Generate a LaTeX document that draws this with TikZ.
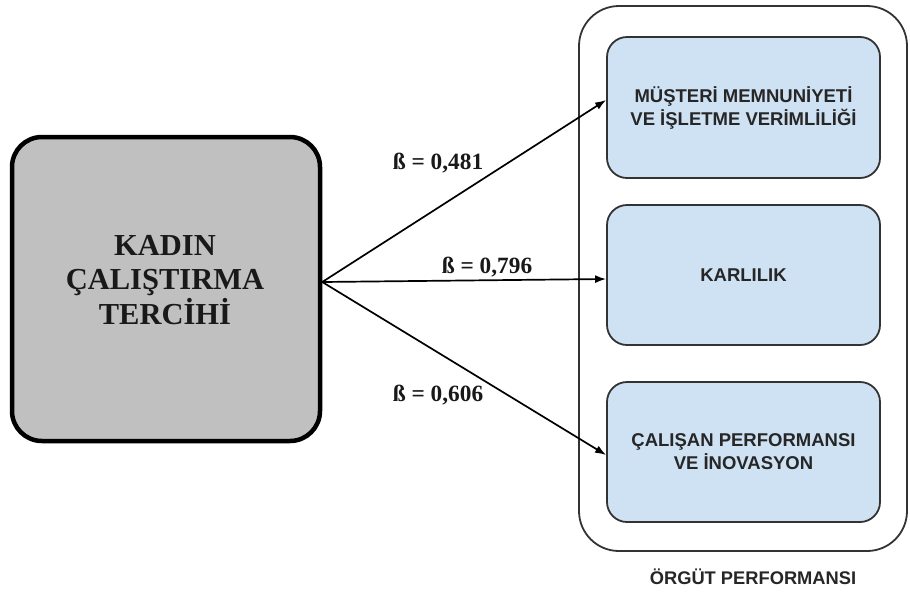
\documentclass[tikz,border=0pt]{standalone}
\usepackage{fontspec}
\setmainfont{Liberation Serif}
\setsansfont{Liberation Sans}
\usetikzlibrary{arrows.meta}
\definecolor{boxblue}{HTML}{CFE2F3}
\definecolor{boxgray}{HTML}{C0C0C0}
\definecolor{edgegray}{HTML}{333333}
\begin{document}
\begin{tikzpicture}[x=1pt,y=-1pt,
  kbox/.style={draw=black, line width=4.5pt, fill=boxgray, rounded corners=30pt,
    minimum width=308pt, minimum height=304pt, inner sep=0pt},
  ktext/.style={font=\fontsize{30.5}{34.5}\selectfont\bfseries, align=center, text=black!90},
  outerbox/.style={draw=edgegray, line width=1.8pt, rounded corners=40pt,
    minimum width=328pt, minimum height=545pt, inner sep=0pt},
  pbox/.style={draw=edgegray, line width=1.8pt, fill=boxblue, rounded corners=20pt,
    minimum width=273pt, inner sep=0pt,
    font=\sffamily\bfseries\fontsize{18.5}{23}\selectfont, align=center, text=black!85},
  beta/.style={font=\fontsize{23.3}{27}\selectfont\bfseries, text=black!90},
  conn/.style={draw=black, line width=1.7pt, -{Latex[length=11pt,width=8pt]}},
  caption/.style={font=\sffamily\bfseries\fontsize{18.3}{22}\selectfont, text=black!85}
]
\useasboundingbox (0,0) rectangle (910,595);
\fill[white] (0,0) rectangle (910,595);

% left box
\node[kbox] (k) at (166,289) {};
\node[ktext] (kt) at (165,280) {KADIN\\ÇALIŞTIRMA\\TERCİHİ};

% container
\node[outerbox] (o) at (743,278.5) {};
\node[caption] (oc) at (753,577) {ÖRGÜT PERFORMANSI};

% inner boxes
\node[pbox, minimum height=141pt] (m1) at (743.5,107.5) {MÜŞTERİ MEMNUNİYETİ\\VE İŞLETME VERİMLİLİĞİ};
\node[pbox, minimum height=140pt] (m2) at (743.5,275) {KARLILIK};
\node[pbox, minimum height=140pt] (m3) at (743.5,452) {ÇALIŞAN PERFORMANSI\\VE İNOVASYON};

% connectors
\coordinate (src) at ([yshift=7pt]k.east);
\draw[conn] (src) -- ([yshift=7.5pt]m1.west);
\draw[conn] (src) -- ([yshift=-4pt]m2.west);
\draw[conn] (src) -- ([yshift=-3pt]m3.west);

% labels
\node[beta] (b1) at (438,163) {ß = 0,481};
\node[beta] (b2) at (487,267) {ß = 0,796};
\node[beta] (b3) at (438,395) {ß = 0,606};
\end{tikzpicture}
\end{document}
